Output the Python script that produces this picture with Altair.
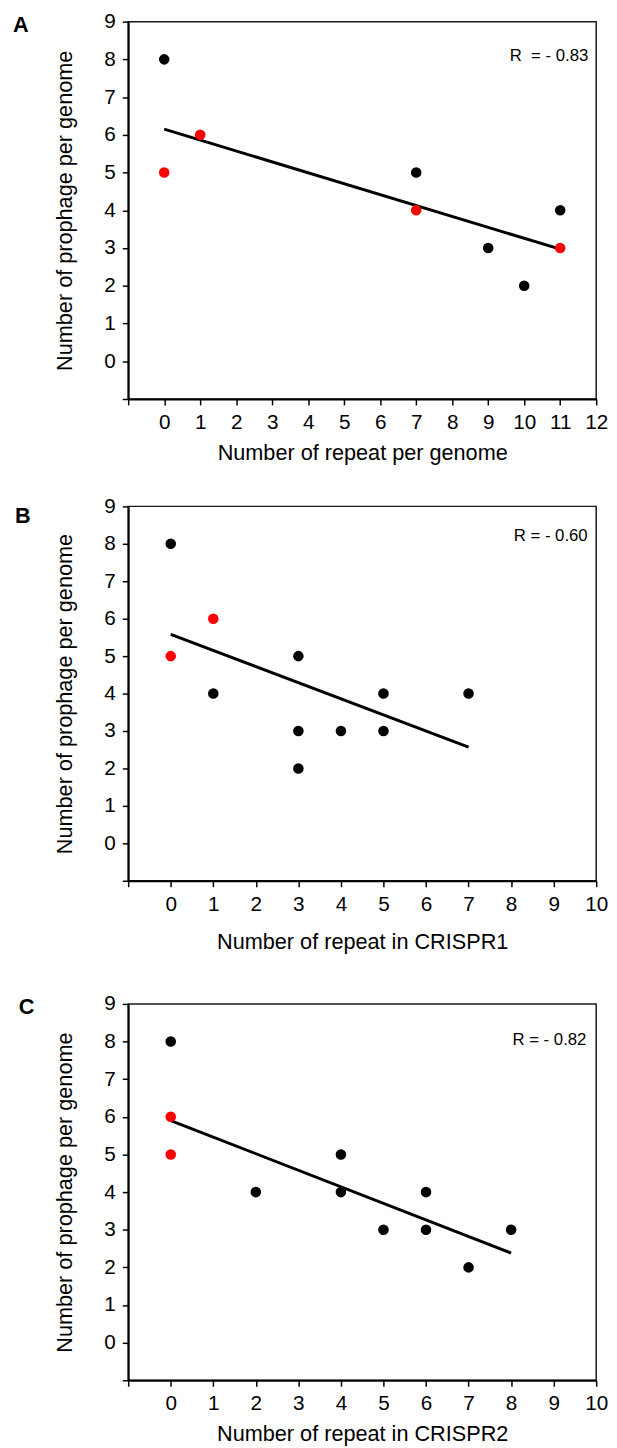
import altair as alt
import pandas as pd

FONT = "Liberation Sans"

# ---- Panel A data ----
a_x = [0, 0, 1, 7, 7, 9, 10, 11, 11]
a_y = [8, 5, 6, 5, 4, 3, 2, 4, 3]
a_grp = ["black", "red", "red", "black", "red", "black", "black", "black", "red"]
a_fit_x = [0, 11]
a_fit_y = [6.15, 2.97]
a_r = "R\u00a0 = - 0.83"
a_r_pos = [11.78, 8.1]

# ---- Panel B data ----
b_x = [0, 0, 1, 1, 3, 3, 3, 4, 5, 5, 7]
b_y = [8, 5, 6, 4, 5, 3, 2, 3, 4, 3, 4]
b_grp = ["black", "red", "red", "black", "black", "black", "black", "black", "black", "black", "black"]
b_fit_x = [0, 7]
b_fit_y = [5.58, 2.57]
b_r = "R = - 0.60"
b_r_pos = [9.8, 8.2]

# ---- Panel C data ----
c_x = [0, 0, 0, 2, 4, 4, 5, 6, 6, 7, 8]
c_y = [8, 6, 5, 4, 5, 4, 3, 4, 3, 2, 3]
c_grp = ["black", "red", "red", "black", "black", "black", "black", "black", "black", "black", "black"]
c_fit_x = [0, 8]
c_fit_y = [5.9, 2.38]
c_r = "R = - 0.82"
c_r_pos = [9.77, 8.05]

y_ticks = list(range(-1, 10))


def panel(letter, xs, ys, grp, fx, fy, rtext, rpos, xmax, xtitle, h,
          letter_x, letter_y, xtitle_pad):
    pts = pd.DataFrame({"x": xs, "y": ys, "g": grp})
    fit = pd.DataFrame({"x": fx, "y": fy})
    rdf = pd.DataFrame({"x": [rpos[0]], "y": [rpos[1]], "t": [rtext]})
    ldf = pd.DataFrame({"t": [letter]})

    xscale = alt.Scale(domain=[-1, xmax], nice=False, zero=False)
    yscale = alt.Scale(domain=[-1, 9], nice=False, zero=False)
    common = dict(labelExpr="datum.value < 0 ? '' : datum.label",
                  labelOverlap=False, labelFlush=False, labelBound=False,
                  grid=False, labelFont=FONT, labelFontSize=21,
                  labelColor="black", titleFont=FONT, titleFontSize=22,
                  titleFontWeight="normal", titleColor="black",
                  domainColor="black", domainWidth=2, tickColor="black",
                  tickWidth=1.5, tickSize=6)
    xaxis = alt.Axis(title=xtitle, values=list(range(-1, xmax + 1)),
                     labelPadding=7, titlePadding=xtitle_pad, **common)
    yaxis = alt.Axis(title="Number of prophage per genome", values=y_ticks,
                     labelPadding=7, titlePadding=28, **common)
    xenc = alt.X("x:Q", scale=xscale, axis=xaxis)
    yenc = alt.Y("y:Q", scale=yscale, axis=yaxis)

    line = alt.Chart(fit).mark_line(color="black", strokeWidth=3).encode(
        x=xenc, y=yenc)
    points = alt.Chart(pts).mark_circle(size=115, opacity=1).encode(
        x=xenc,
        y=yenc,
        color=alt.Color("g:N", scale=alt.Scale(domain=["black", "red"],
                                               range=["#000000", "#ff0000"]),
                        legend=None),
    )
    rlab = alt.Chart(rdf).mark_text(align="right", baseline="middle",
                                    fontSize=17, font=FONT, color="black").encode(
        x=xenc, y=yenc, text="t:N")
    let = alt.Chart(ldf).mark_text(align="left", baseline="middle", fontSize=22,
                                   fontWeight="bold", font=FONT, color="black").encode(
        x=alt.value(letter_x), y=alt.value(letter_y), text="t:N")
    return alt.layer(line, points, rlab, let).properties(width=475, height=h)


pA = panel("A", a_x, a_y, a_grp, a_fit_x, a_fit_y, a_r, a_r_pos, 12,
           "Number of repeat per genome", 383, -117, 4, 10)
pB = panel("B", b_x, b_y, b_grp, b_fit_x, b_fit_y, b_r, b_r_pos, 10,
           "Number of repeat in CRISPR1", 380, -115, 10, 18)
pC = panel("C", c_x, c_y, c_grp, c_fit_x, c_fit_y, c_r, c_r_pos, 10,
           "Number of repeat in CRISPR2", 382, -111, 3, 10)

chart = alt.vconcat(alt.vconcat(pA, pB, spacing=31), pC, spacing=39).properties(
    padding={"left": 4, "top": -9, "right": 0, "bottom": 0}
).configure_view(
    stroke="#1a1a1a", strokeWidth=1.5
)

chart.save("out.html", embed_options={"renderer": "svg", "actions": False})
